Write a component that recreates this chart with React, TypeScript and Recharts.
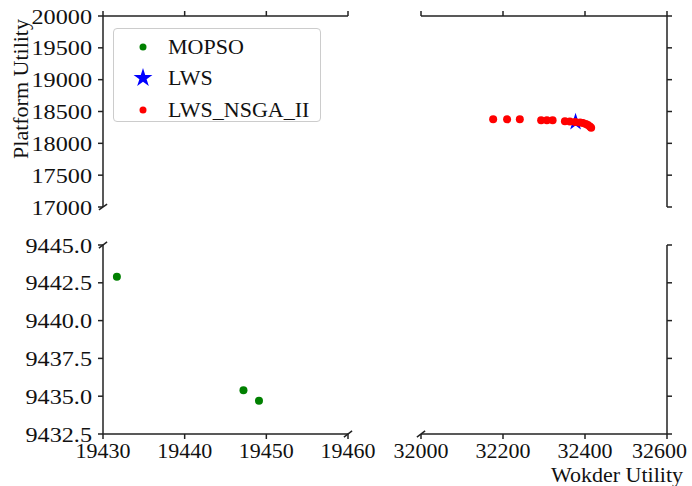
import { ScatterChart, Scatter, XAxis, YAxis, ReferenceLine, Legend, Symbols } from 'recharts';

// values
const mopsoX = [19431.7, 19447.2, 19449.1];
const mopsoY = [9442.9, 9435.4, 9434.7];

const lwsX = [32377];
const lwsY = [18335];

const nsgaX = [32176, 32210, 32241, 32293, 32307, 32321, 32351, 32363, 32376, 32388, 32395, 32402, 32407, 32412, 32415];
const nsgaY = [18377, 18377, 18377, 18361, 18361, 18361, 18346, 18343, 18335, 18327, 18319, 18304, 18288, 18264, 18245];

const leftXTicks = [19430, 19440, 19450, 19460];
const rightXTicks = [32000, 32200, 32400, 32600];
const topYTicks = [17000, 17500, 18000, 18500, 19000, 19500, 20000];
const bottomYTicks = [9432.5, 9435.0, 9437.5, 9440.0, 9442.5, 9445.0];

const legendItems = [
  { name: 'MOPSO', color: '#008000', shape: 'circle' },
  { name: 'LWS', color: '#0000ff', shape: 'star' },
  { name: 'LWS_NSGA_II', color: '#ff0000', shape: 'circle' },
];

const zip = (xs: number[], ys: number[]) => xs.map((x, i) => ({ x, y: ys[i] }));
const mopsoData = zip(mopsoX, mopsoY);
const lwsData = zip(lwsX, lwsY);
const nsgaData = zip(nsgaX, nsgaY);

const W = 692;
const H = 486;
const AXIS = '#222';
const FONT = '"Liberation Serif", "DejaVu Serif", serif';
const textStyle = { fontFamily: FONT, fontSize: 22, fill: '#111' };
const noLabel = () => '';

const dot = (color: string) => (p: any) => <circle cx={p.cx} cy={p.cy} r={4} fill={color} />;
const star = (color: string) => (p: any) => <Symbols cx={p.cx} cy={p.cy} type="star" size={95} fill={color} />;

// y tick labels are drawn a little wider in the reference
const makeYTick = (fmt: (v: number) => string) => (p: any) => (
  <text
    x={p.x} y={p.y} textAnchor="end" dominantBaseline="central" style={textStyle}
    transform={`translate(${p.x},${p.y}) scale(1.1,1) translate(${-p.x},${-p.y})`}
  >
    {fmt(p.payload.value)}
  </text>
);

// last x label sits inside the right edge
const XTick = (p: any) => {
  const last = p.payload.value === 32600;
  return (
    <text x={last ? p.x + 20 : p.x} y={p.y} textAnchor={last ? 'end' : 'middle'} dy="0.71em" style={textStyle}>
      {p.payload.value}
    </text>
  );
};

// small "/" break mark around a data corner, dx/dy in data units
const BreakMark = (x: number, y: number, dx: number, dy: number) => (
  <ReferenceLine
    segment={[{ x: x - dx, y: y - dy }, { x: x + dx, y: y + dy }]}
    stroke={AXIS}
    strokeWidth={1.5}
    ifOverflow="visible"
  />
);

const LegendBox = () => (
  <div
    style={{
      width: 208, height: 94, border: '1px solid #ccc', borderRadius: 4, background: '#fff',
      boxSizing: 'border-box', paddingTop: 2,
    }}
  >
    {legendItems.map((it) => (
      <div key={it.name} style={{ display: 'flex', alignItems: 'center', height: 31.5 }}>
        <svg width={54} height={24}>
          {it.shape === 'star'
            ? <Symbols cx={29} cy={12} type="star" size={110} fill={it.color} />
            : <circle cx={29} cy={12} r={3.5} fill={it.color} />}
        </svg>
        <span style={{ fontFamily: FONT, fontSize: 22, color: '#111' }}>{it.name}</span>
      </div>
    ))}
  </div>
);

const box: React.CSSProperties = { position: 'absolute', left: 0, top: 0 };

export default function App() {
  return (
    <div style={{ position: 'absolute', left: 0, top: 0, width: W, height: H, background: '#fff' }}>
      {/* top-left panel */}
      <div style={box}>
        <ScatterChart width={W} height={H} margin={{ top: 6, right: 344, bottom: 279, left: 0 }}>
          <XAxis
            type="number" dataKey="x" orientation="top" height={10}
            domain={[19430, 19460]} ticks={leftXTicks} allowDataOverflow tickFormatter={noLabel}
            interval={0} stroke={AXIS} strokeWidth={1.5} tickSize={5}
          />
          <YAxis
            type="number" dataKey="y" width={103} domain={[17000, 20000]} ticks={topYTicks}
            allowDataOverflow tick={makeYTick((v) => String(v))} tickSize={5} tickMargin={6} interval={0}
            stroke={AXIS} strokeWidth={1.5}
            label={{
              content: ({ viewBox }: any) => (
                <text
                  x={20} y={viewBox.y + 73} transform={`rotate(-90, 20, ${viewBox.y + 73})`}
                  textAnchor="middle" dominantBaseline="central" style={textStyle}
                >
                  Platform Utility
                </text>
              ),
            }}
          />
          {BreakMark(19430, 17000, 0.5, 45)}
          <Legend
            layout="vertical" align="center" verticalAlign="middle"
            wrapperStyle={{ top: 28, left: 113, width: 210 }}
            content={() => <LegendBox />}
          />
        </ScatterChart>
      </div>

      {/* top-right panel */}
      <div style={box}>
        <ScatterChart width={W} height={H} margin={{ top: 6, right: 5, bottom: 279, left: 421 }}>
          <XAxis
            type="number" dataKey="x" orientation="top" height={10}
            domain={[32000, 32600]} ticks={rightXTicks} allowDataOverflow tickFormatter={noLabel}
            interval={0} stroke={AXIS} strokeWidth={1.5} tickSize={5}
          />
          <YAxis
            type="number" dataKey="y" orientation="right" width={20} domain={[17000, 20000]}
            ticks={topYTicks} allowDataOverflow tickFormatter={noLabel} interval={0} tickSize={5}
            stroke={AXIS} strokeWidth={1.5}
          />
          <Scatter name="LWS" data={lwsData} shape={star('#0000ff')} isAnimationActive={false} />
          <Scatter name="LWS_NSGA_II" data={nsgaData} shape={dot('#ff0000')} isAnimationActive={false} />
        </ScatterChart>
      </div>

      {/* bottom-left panel */}
      <div style={box}>
        <ScatterChart width={W} height={H} margin={{ top: 245, right: 344, bottom: 2, left: 0 }}>
          <XAxis
            type="number" dataKey="x" height={50} domain={[19430, 19460]} ticks={leftXTicks}
            allowDataOverflow tick={XTick} tickSize={5} tickMargin={3} interval={0}
            stroke={AXIS} strokeWidth={1.5}
          />
          <YAxis
            type="number" dataKey="y" width={103} domain={[9432.5, 9445]} ticks={bottomYTicks}
            allowDataOverflow tick={makeYTick((v) => v.toFixed(1))} tickSize={5} tickMargin={6} interval={0}
            stroke={AXIS} strokeWidth={1.5}
          />
          {BreakMark(19430, 9445, 0.5, 0.2)}
          {BreakMark(19460, 9432.5, 0.5, 0.2)}
          <Scatter name="MOPSO" data={mopsoData} shape={dot('#008000')} isAnimationActive={false} />
        </ScatterChart>
      </div>

      {/* bottom-right panel */}
      <div style={box}>
        <ScatterChart width={W} height={H} margin={{ top: 245, right: 5, bottom: 2, left: 421 }}>
          <XAxis
            type="number" dataKey="x" height={50} domain={[32000, 32600]} ticks={rightXTicks}
            allowDataOverflow tick={XTick} tickSize={5} tickMargin={3} interval={0}
            stroke={AXIS} strokeWidth={1.5}
            label={{
              content: ({ viewBox }: any) => (
                <text
                  x={viewBox.x + viewBox.width + 16} y={viewBox.y + 48} textAnchor="end" style={textStyle}
                >
                  Wokder Utility
                </text>
              ),
            }}
          />
          <YAxis
            type="number" dataKey="y" orientation="right" width={20} domain={[9432.5, 9445]}
            ticks={bottomYTicks} allowDataOverflow tickFormatter={noLabel} interval={0} tickSize={5}
            stroke={AXIS} strokeWidth={1.5}
          />
          {BreakMark(32000, 9432.5, 10, 0.2)}
        </ScatterChart>
      </div>
    </div>
  );
}
